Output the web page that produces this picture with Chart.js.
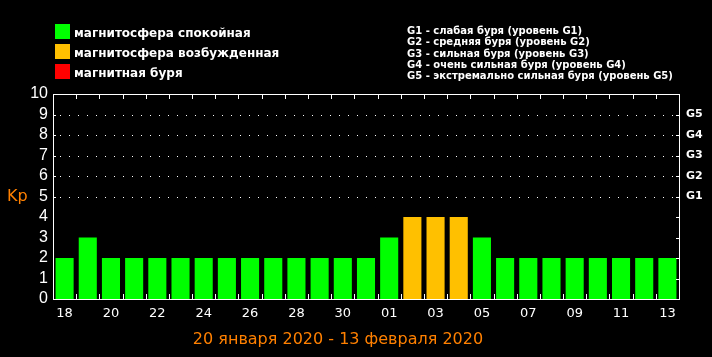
<!DOCTYPE html>
<html><head><meta charset="utf-8">
<script src="https://cdn.jsdelivr.net/npm/chart.js@4.4.0/dist/chart.umd.min.js"></script>
<style>html,body{margin:0;padding:0;background:#000;overflow:hidden}#wrap{width:712px;height:357px;position:relative}canvas{display:block}</style>
</head><body><div id="wrap"><canvas id="c" width="712" height="357"></canvas></div>
<script>
// ---- data ----
const categories = ['18','19','20','21','22','23','24','25','26','27','28','29','30','31','01','02','03','04','05','06','07','08','09','10','11','12','13'];
const kpValues = [2,3,2,2,2,2,2,2,2,2,2,2,2,2,3,4,4,4,3,2,2,2,2,2,2,2,2];
const yTickLabels = ['0','1','2','3','4','5','6','7','8','9','10'];
const stormLevels = [5,6,7,8,9];
const stormLabels = ['G1','G2','G3','G4','G5'];
const legendLabels = ['магнитосфера спокойная','магнитосфера возбужденная','магнитная буря'];
const stormDescriptions = [
  'G1 - слабая буря (уровень G1)',
  'G2 - средняя буря (уровень G2)',
  'G3 - сильная буря (уровень G3)',
  'G4 - очень сильная буря (уровень G4)',
  'G5 - экстремально сильная буря (уровень G5)'
];
const axisTitle = 'Kp';
const periodTitle = '20 января 2020 - 13 февраля 2020';

// ---- style ----
const GREEN = '#00ff00', ORANGE_BAR = '#ffc000', RED = '#ff0000', ORANGE_TXT = '#ff8000';
const legendColors = [GREEN, ORANGE_BAR, RED];
function colorFor(v){ return v >= 5 ? RED : (v >= 4 ? ORANGE_BAR : GREEN); }

const decor = {
  id: 'decor',
  beforeDraw(chart){
    const c = chart.ctx;
    c.save(); c.fillStyle = '#000'; c.fillRect(0,0,chart.width,chart.height); c.restore();
  },
  beforeDatasetsDraw(chart){
    const c = chart.ctx, a = chart.chartArea, y = chart.scales.y;
    c.save();
    c.strokeStyle = '#ffffff'; c.lineWidth = 1;
    c.setLineDash([1, 8]);
    stormLevels.forEach(v => {
      const py = Math.round(y.getPixelForValue(v)) + 0.5;
      c.beginPath(); c.moveTo(a.left + 7, py); c.lineTo(a.right - 5, py); c.stroke();
    });
    c.restore();
  },
  afterDatasetsDraw(chart){
    const c = chart.ctx, a = chart.chartArea, x = chart.scales.x, y = chart.scales.y;
    c.save();
    c.strokeStyle = '#ffffff'; c.lineWidth = 1;
    c.strokeRect(a.left + 0.5, a.top + 0.5, a.right - a.left, a.bottom - a.top);
    for (let i = 1; i < categories.length; i++) {
      const px = Math.round((x.getPixelForValue(i - 1) + x.getPixelForValue(i)) / 2) + 0.5;
      c.beginPath(); c.moveTo(px, a.top); c.lineTo(px, a.top + 5); c.stroke();
      c.beginPath(); c.moveTo(px, a.bottom); c.lineTo(px, a.bottom - 5); c.stroke();
    }
    for (let v = 1; v <= 9; v++) {
      const py = Math.round(y.getPixelForValue(v)) + 0.5;
      c.beginPath(); c.moveTo(a.right, py); c.lineTo(a.right - 3, py); c.stroke();
    }
    stormLevels.forEach(v => {
      const py = Math.round(y.getPixelForValue(v)) + 0.5;
      c.beginPath(); c.moveTo(a.left, py); c.lineTo(a.left + 3, py); c.stroke();
    });
    c.restore();
  },
  afterDraw(chart){
    const c = chart.ctx;
    c.save();
    legendLabels.forEach((t, i) => {
      c.fillStyle = legendColors[i];
      c.fillRect(55, 24 + i * 20, 15, 15);
      c.fillStyle = '#ffffff';
      c.font = 'bold 12px "DejaVu Sans"';
      c.textBaseline = 'alphabetic'; c.textAlign = 'left';
      c.fillText(t, 74, 37 + i * 20);
    });
    c.font = 'bold 10px "DejaVu Sans"';
    stormDescriptions.forEach((t, i) => {
      c.fillText(t, 407, 34 + i * 11.25);
    });
    c.fillStyle = ORANGE_TXT;
    c.font = '16px "DejaVu Sans"';
    c.fillText(axisTitle, 7, 201);
    c.textAlign = 'center';
    c.fillText(periodTitle, 338, 344);
    c.restore();
  }
};

new Chart(document.getElementById('c'), {
  type: 'bar',
  data: {
    labels: categories,
    datasets: [{
      data: kpValues,
      backgroundColor: kpValues.map(colorFor),
      borderWidth: 0,
      barPercentage: 0.78,
      categoryPercentage: 1
    }]
  },
  options: {
    responsive: false,
    animation: false,
    layout: { padding: { top: 94, left: 0, right: 0, bottom: 0 } },
    plugins: { legend: { display: false }, tooltip: { enabled: false }, title: { display: false } },
    scales: {
      x: {
        offset: true,
        grid: { display: false, drawTicks: false },
        border: { display: false },
        ticks: {
          color: '#ffffff', font: { family: 'DejaVu Sans', size: 13 }, padding: 7,
          autoSkip: false, maxRotation: 0, minRotation: 0,
          callback: (v, i) => (i % 2 === 0 ? categories[i] : '')
        },
        afterFit: s => { s.height = 58; }
      },
      y: {
        position: 'left', min: 0, max: 10,
        grid: { display: false, drawTicks: false },
        border: { display: false },
        ticks: {
          stepSize: 1, autoSkip: false, color: '#ffffff', font: { family: 'Liberation Sans', size: 16 }, padding: 5,
          callback: v => yTickLabels[v]
        },
        afterFit: s => { s.width = 53; }
      },
      y2: {
        position: 'right', min: 0, max: 10,
        grid: { display: false, drawTicks: false },
        border: { display: false },
        ticks: {
          stepSize: 1, autoSkip: false, color: '#ffffff', font: { family: 'DejaVu Sans', size: 11, weight: 'bold' }, padding: 7,
          callback: v => { const k = stormLevels.indexOf(v); return k >= 0 ? stormLabels[k] : ''; }
        },
        afterFit: s => { s.width = 33; }
      }
    }
  },
  plugins: [decor]
});
</script>
</body></html>
